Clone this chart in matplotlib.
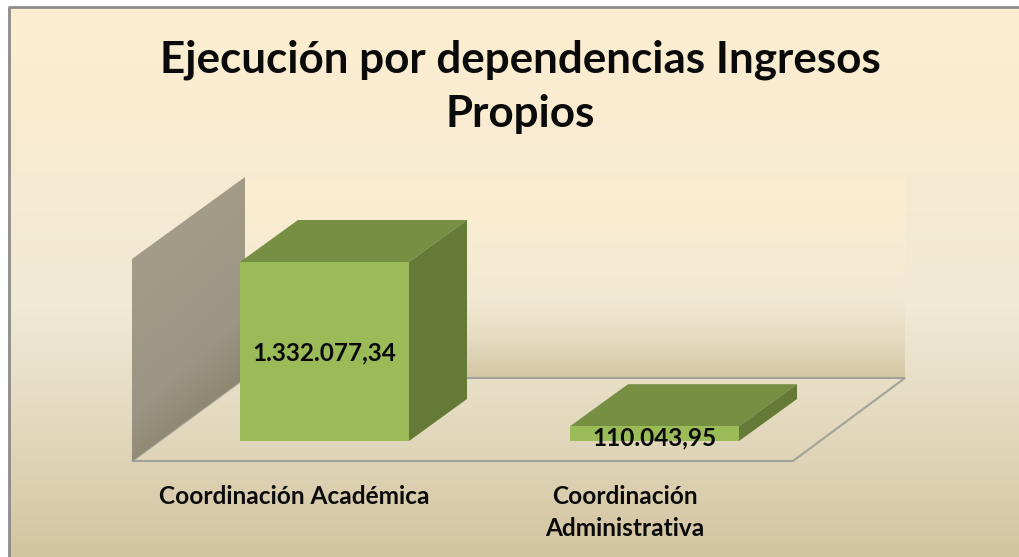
import numpy as np
import matplotlib
matplotlib.use("Agg")
import matplotlib.pyplot as plt
from matplotlib.colors import LinearSegmentedColormap
from matplotlib.patches import Polygon, Rectangle

TITLE_LINES = ["Ejecución por dependencias Ingresos", "Propios"]
CATEGORIES = [["Coordinación Académica"], ["Coordinación", "Administrativa"]]
VALUES = [1332077.34, 110043.95]
VALUE_LABELS = ["1.332.077,34", "110.043,95"]

W, H = 1019, 557
PX_PER_CAT = 330          # distance between the two bars
UNITS_PER_PX = VALUES[0] / 179
FLOOR_PX = 441            # image row of value 0
BAR_X0 = 324.5            # image column of category 0
BAR_W = 169 / PX_PER_CAT
DEPTH_X, DEPTH_Y = 58, 42

plt.rcParams["font.family"] = ["Lato", "DejaVu Sans"]
plt.rcParams["font.weight"] = "bold"

fig = plt.figure(figsize=(W / 100, H / 100), dpi=100, facecolor="white")
ax = fig.add_axes([0, 0, 1, 1])
ax.axis("off")


def P(px, py):
    # image pixel -> data coordinates
    return (px - BAR_X0) / PX_PER_CAT, (FLOOR_PX - py) * UNITS_PER_PX


def gradient(p0, p1, colors, clip=None, diagonal=False, z=1):
    x0, y0 = P(*p0)
    x1, y1 = P(*p1)
    cmap = LinearSegmentedColormap.from_list("g", colors)
    g = np.linspace(0, 1, 256)[:, None]
    if diagonal:
        g = np.add.outer(np.linspace(0, 1, 256), np.linspace(0, 0.35, 64)) / 1.35
    im = ax.imshow(g, extent=(x0, x1, y1, y0), origin="upper", cmap=cmap,
                   vmin=0, vmax=1, aspect="auto", zorder=z, interpolation="bilinear")
    if clip is not None:
        im.set_clip_path(clip)
    return im


# chart area background and frame
gradient((9, 7), (W, H),
         [(0, "#fdeed0"), (0.3, "#f7ebd2"), (0.55, "#f0e9d5"), (0.8, "#e0d6ba"), (1, "#d3c4a0")])
ax.plot(*zip(P(W, 7), P(9, 7), P(9, H)), color="#8c8c8c", lw=2, zorder=2)

# back wall
gradient((245, 177), (905, 378),
         [(0, "#fdeed0"), (0.6, "#f2e9d4"), (0.8, "#e6dcc2"), (1, "#d5c7a5")], z=2)

# floor outline
floor = [P(132, 461), P(245, 378), P(905, 378), P(793, 461)]
ax.add_patch(Polygon(floor, closed=True, fc="none", ec="#a3a39c", lw=1.5, zorder=3))

# side wall
wall = Polygon([P(132, 259), P(245, 177), P(245, 378), P(132, 461)], closed=True,
               fc="none", ec="none", zorder=4)
ax.add_patch(wall)
gradient((132, 177), (245, 461),
         [(0, "#a89f8b"), (0.62, "#9a9683"), (1, "#7d7159")], clip=wall, diagonal=True, z=4)

# bars
dx = DEPTH_X / PX_PER_CAT
dy = DEPTH_Y * UNITS_PER_PX
label_rows = [351, 436]
for i, (val, txt) in enumerate(zip(VALUES, VALUE_LABELS)):
    l, r = i - BAR_W / 2, i + BAR_W / 2
    ax.add_patch(Polygon([(l, val), (r, val), (r + dx, val + dy), (l + dx, val + dy)],
                         fc="#768f42", ec="none", zorder=5))
    ax.add_patch(Polygon([(r, 0), (r + dx, dy), (r + dx, val + dy), (r, val)],
                         fc="#647a36", ec="none", zorder=5))
    ax.add_patch(Rectangle((l, 0), BAR_W, val, fc="#9bbb59", ec="none", zorder=6))
    ax.text(i, P(0, label_rows[i])[1], txt, ha="center", va="center_baseline",
            fontsize=17.6, color="#0a0a0a", zorder=7)

# category labels
label_start = [495, 495]
for i, lines in enumerate(CATEGORIES):
    for k, line in enumerate(lines):
        ax.text(i - 30 / PX_PER_CAT, P(0, label_start[i] + 31 * k)[1], line,
                ha="center", va="center_baseline", fontsize=17.6,
                color="#0a0a0a", zorder=7)

# title
for k, line in enumerate(TITLE_LINES):
    tx, ty = P(520, 56 + 54 * k)
    ax.text(tx, ty, line, ha="center", va="center_baseline", fontsize=31.7,
            color="#0a0a0a", zorder=7)

ax.set_xlim(-BAR_X0 / PX_PER_CAT, (W - BAR_X0) / PX_PER_CAT)
ax.set_ylim(-(H - FLOOR_PX) * UNITS_PER_PX, FLOOR_PX * UNITS_PER_PX)
fig.savefig("out.png", dpi=100)
